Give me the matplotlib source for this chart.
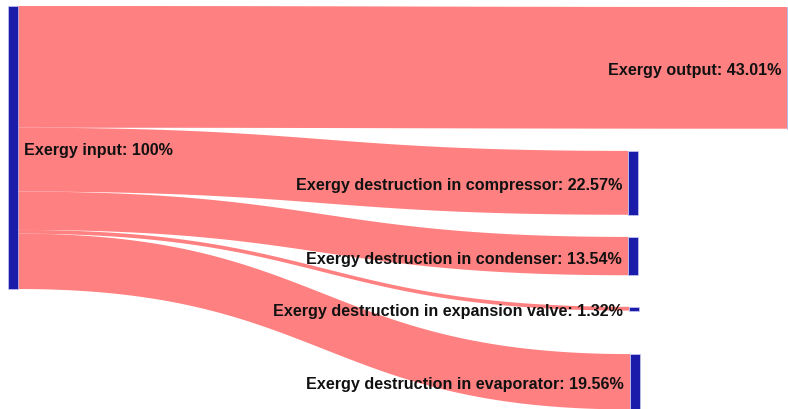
import numpy as np
import matplotlib
matplotlib.use("Agg")
import matplotlib.pyplot as plt
from matplotlib.patches import Rectangle, Polygon

# Sankey data: one source, five targets (percent of exergy input)
source_label = "Exergy input: 100%"
target_labels = [
    "Exergy output: 43.01%",
    "Exergy destruction in compressor: 22.57%",
    "Exergy destruction in condenser: 13.54%",
    "Exergy destruction in expansion valve: 1.32%",
    "Exergy destruction in evaporator: 19.56%",
]
target_values = [43.01, 22.57, 13.54, 1.32, 19.56]
# top of each target node, in value units (as laid out in the reference)
target_tops = [0.35, 51.2, 81.6, 106.3, 123.0]
# horizontal column of each target node (figure px)
target_x = [787, 628, 628, 629, 630]

NODE_COLOR = "#1c1caa"
LINK_COLOR = "#ff8080"
NODE_W = 10
SRC_X = 8

fig = plt.figure(figsize=(7.88, 4.10), dpi=100)
ax = fig.add_axes([0, 0, 1, 1])
ax.set_xlim(0, 788)
# y in value units, 2.83 px per unit, source top at 7 px
scale = 2.83
ax.set_ylim((410 - 7) / scale, -7 / scale)
ax.axis("off")


def bezier_band(x0, x1, y0a, y0b, y1a, y1b, n=100):
    t = np.linspace(0, 1, n)
    xm = (x0 + x1) / 2
    xs = (1 - t) ** 3 * x0 + 3 * (1 - t) ** 2 * t * xm + 3 * (1 - t) * t ** 2 * xm + t ** 3 * x1
    s = 3 * t ** 2 - 2 * t ** 3
    top = y0a + (y1a - y0a) * s
    bot = y0b + (y1b - y0b) * s
    pts = np.vstack([np.column_stack([xs, top]), np.column_stack([xs[::-1], bot[::-1]])])
    return pts


# links
total = sum(target_values)
cum = 0.0
for val, top, tx in zip(target_values, target_tops, target_x):
    pts = bezier_band(SRC_X + NODE_W, tx, cum, cum + val, top, top + val)
    ax.add_patch(Polygon(pts, closed=True, facecolor=LINK_COLOR, edgecolor="none", zorder=1))
    cum += val

# nodes
ax.add_patch(Rectangle((SRC_X, 0), NODE_W, total, facecolor=NODE_COLOR,
                       edgecolor="#c8c8f0", linewidth=0.5, zorder=2))
for val, top, tx in zip(target_values, target_tops, target_x):
    ax.add_patch(Rectangle((tx, top), NODE_W, val, facecolor=NODE_COLOR,
                           edgecolor="#c8c8f0", linewidth=0.5, zorder=2))

# labels (nudged ~2px down to match the reference baseline)
font = dict(family="Liberation Sans", weight="bold", size=11.6, color="#111111")
dy = 2 / scale
ax.text(SRC_X + NODE_W + 6, total / 2 + dy, source_label, ha="left", va="center", zorder=3, **font)
for lab, val, top, tx in zip(target_labels, target_values, target_tops, target_x):
    ax.text(tx - 6, top + val / 2 + dy, lab, ha="right", va="center", zorder=3, **font)

fig.savefig("out.png", dpi=100)
